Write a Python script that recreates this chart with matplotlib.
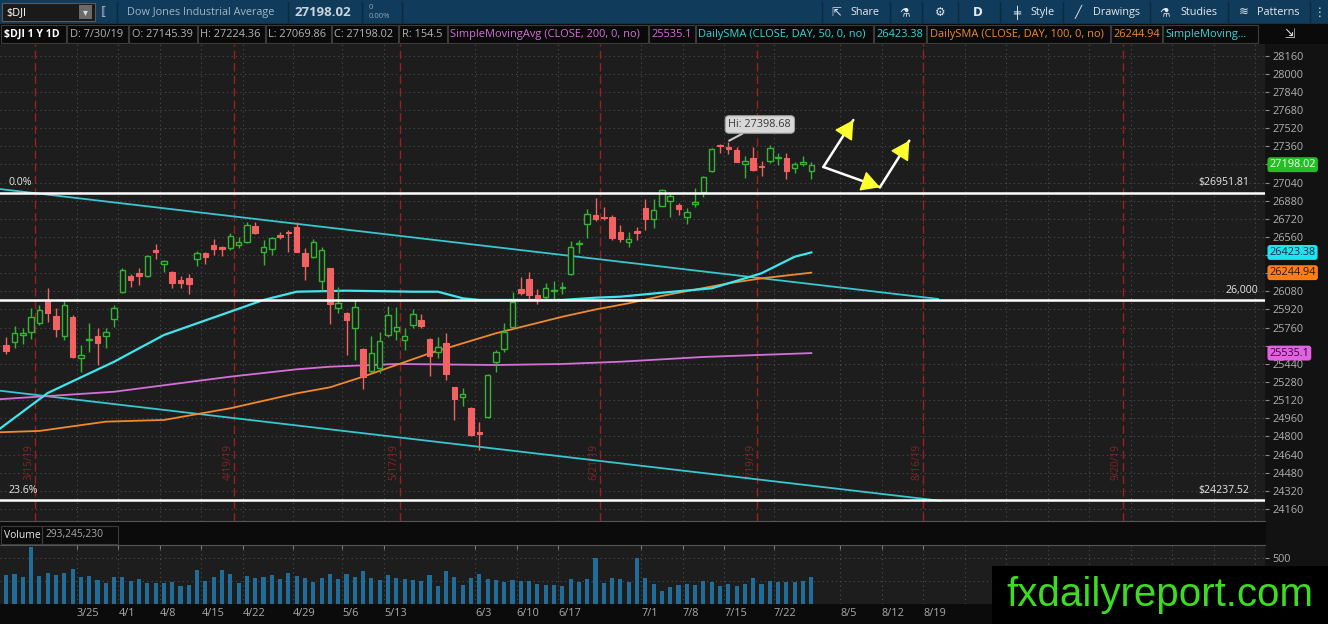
import matplotlib
matplotlib.use('Agg')
import matplotlib.pyplot as plt
import matplotlib.transforms as mtransforms
from matplotlib.patches import Rectangle
import numpy as np
import pandas as pd

plt.rcParams['font.family'] = ['Open Sans', 'DejaVu Sans']

# ---------------- data ----------------
dates = ['3/12', '3/13', '3/14', '3/15', '3/18', '3/19', '3/20', '3/21', '3/22',
         '3/25', '3/26', '3/27', '3/28', '3/29', '4/1', '4/2', '4/3', '4/4', '4/5',
         '4/8', '4/9', '4/10', '4/11', '4/12', '4/15', '4/16', '4/17', '4/18',
         '4/22', '4/23', '4/24', '4/25', '4/26', '4/29', '4/30', '5/1', '5/2', '5/3',
         '5/6', '5/7', '5/8', '5/9', '5/10', '5/13', '5/14', '5/15', '5/16', '5/17',
         '5/20', '5/21', '5/22', '5/23', '5/24', '5/28', '5/29', '5/30', '5/31',
         '6/3', '6/4', '6/5', '6/6', '6/7', '6/10', '6/11', '6/12', '6/13', '6/14',
         '6/17', '6/18', '6/19', '6/20', '6/21', '6/24', '6/25', '6/26', '6/27', '6/28',
         '7/1', '7/2', '7/3', '7/5', '7/8', '7/9', '7/10', '7/11', '7/12',
         '7/15', '7/16', '7/17', '7/18', '7/19', '7/22', '7/23', '7/24', '7/25', '7/26',
         '7/29', '7/30']

opens = [25607, 25636, 25692, 25724, 25804, 26000, 25866, 25686, 25851,
         25489, 25648, 25686, 25689, 25833, 26077, 26219, 26245, 26216, 26445,
         26322, 26254, 26180, 26195, 26363, 26422, 26489, 26475, 26460,
         26490, 26519, 26657, 26431, 26451, 26578, 26607, 26651, 26415, 26380,
         26171, 26283, 25936, 25886, 25759, 25568, 25380, 25400, 25695, 25730,
         25650, 25783, 25827, 25656, 25547, 25621, 25233, 25144, 25047,
         24841, 24968, 25453, 25568, 25768, 26100, 26189, 26048, 26033, 26083,
         26106, 26233, 26495, 26674, 26754, 26740, 26739, 26607, 26519, 26616,
         26819, 26719, 26836, 26878, 26839, 26733, 26852, 26960, 27145,
         27372, 27357, 27328, 27204, 27254, 27189, 27234, 27260, 27254, 27172,
         27204, 27145.39]
highs = [25674, 25774, 25754, 25930, 25960, 26109, 25930, 25995, 25870,
         25607, 25798, 25760, 25754, 25960, 26283, 26230, 26289, 26401, 26498,
         26355, 26262, 26216, 26233, 26439, 26430, 26539, 26480, 26598,
         26563, 26695, 26695, 26533, 26563, 26607, 26622, 26695, 26459, 26539,
         26474, 26290, 26121, 25895, 26003, 25580, 25686, 25724, 25950, 25945,
         25753, 25921, 25877, 25670, 25680, 25715, 25240, 25224, 25060,
         24930, 25350, 25562, 25797, 26077, 26209, 26253, 26097, 26150, 26174,
         26165, 26527, 26533, 26804, 26907, 26821, 26754, 26666, 26607, 26651,
         26892, 26892, 26981, 26945, 26857, 26813, 26989, 27098, 27343,
         27380, 27398.68, 27357, 27275, 27351, 27233, 27372, 27299, 27304, 27225,
         27275, 27224.36]
lows = [25527, 25583, 25616, 25657, 25783, 25813, 25680, 25651, 25490,
        25371, 25548, 25430, 25577, 25769, 26069, 26122, 26136, 26210, 26363,
        26248, 26107, 26107, 26057, 26304, 26319, 26401, 26395, 26445,
        26460, 26510, 26586, 26313, 26401, 26539, 26430, 26425, 26180, 26371,
        26092, 25789, 25886, 25518, 25474, 25215, 25356, 25356, 25680, 25650,
        25562, 25753, 25759, 25333, 25494, 25297, 24944, 25068, 24800,
        24680, 24960, 25371, 25547, 25753, 26048, 26012, 25965, 26003, 26003,
        26053, 26224, 26415, 26548, 26704, 26710, 26533, 26519, 26469, 26533,
        26622, 26636, 26833, 26733, 26754, 26675, 26828, 26916, 27136,
        27300, 27292, 27219, 27078, 27145, 27098, 27210, 27195, 27069, 27128,
        27187, 27069.86]
closes = [25555, 25710, 25709, 25851, 25914, 25890, 25745, 25962, 25502,
          25516, 25657, 25627, 25719, 25930, 26269, 26180, 26216, 26392, 26430,
          26348, 26151, 26157, 26145, 26416, 26386, 26451, 26450, 26569,
          26512, 26666, 26598, 26469, 26548, 26557, 26592, 26430, 26306, 26518,
          26445, 25965, 25974, 25827, 25945, 25327, 25533, 25645, 25871, 25768,
          25686, 25877, 25774, 25510, 25592, 25350, 25127, 25174, 24815,
          24819, 25342, 25542, 25724, 25989, 26062, 26048, 26009, 26106, 26092,
          26115, 26468, 26504, 26762, 26722, 26727, 26548, 26539, 26539, 26595,
          26719, 26798, 26975, 26925, 26806, 26783, 26866, 27092, 27334,
          27360, 27335, 27222, 27231, 27151, 27175, 27348, 27269, 27145, 27201,
          27225, 27198.02]
volumes_m = [318, 329, 296, 628, 307, 343, 321, 343, 380, 296,
             307, 259, 230, 296, 296, 252, 270, 230, 230, 230,
             241, 201, 212, 372, 252, 296, 372, 329, 230, 307,
             285, 296, 318, 270, 343, 307, 285, 245, 285, 329,
             270, 329, 296, 361, 285, 259, 318, 285, 270, 263,
             252, 318, 201, 361, 296, 212, 285, 329, 277, 263,
             245, 263, 248, 248, 223, 208, 208, 193, 274, 241,
             274, 500, 234, 281, 270, 245, 500, 281, 223, 142,
             186, 212, 219, 212, 252, 241, 197, 219, 201, 219,
             288, 223, 252, 245, 245, 245, 252, 293.2]

sma50_dates = ['3/11', '3/19', '3/29', '4/8', '4/18', '4/25', '5/1', '5/9', '5/21', '5/24',
               '5/30', '6/3', '6/11', '6/17', '6/21', '6/26', '7/3', '7/12', '7/18', '7/22',
               '7/26', '7/30']
sma50_vals = [24855, 25183, 25459, 25695, 25901, 26004, 26077, 26086, 26077, 26077,
              26019, 26004, 26004, 26004, 26024, 26033, 26068, 26107, 26195, 26240,
              26386, 26423.38]
sma100_dates = ['3/11', '3/18', '3/28', '4/8', '4/18', '5/1', '5/7', '5/13', '5/23', '6/5',
                '6/17', '6/21', '6/27', '7/3', '7/16', '7/22', '7/30']
sma100_vals = [24836, 24848, 24930, 24945, 25048, 25180, 25233, 25327, 25533, 25710,
               25856, 25920, 25975, 26040, 26151, 26195, 26244.94]
sma200_dates = ['3/11', '3/29', '4/18', '5/1', '5/7', '5/17', '6/5', '6/17', '6/26', '7/11', '7/30']
sma200_vals = [25127, 25194, 25327, 25392, 25415, 25439, 25430, 25439, 25459, 25501, 25535.1]

levels = [26951.81, 26000, 24237.52]
trend_upper = [(0.25, 26983), (113.27, 26013)]
trend_lower = [(0.25, 25203), (113.5, 24232)]

expiry_dates = ['3/15', '4/18', '5/17', '6/21', '7/19', '8/16', '9/20']
expiry_labels = ['3/15/19', '4/19/19', '5/17/19', '6/21/19', '7/19/19', '8/16/19', '9/20/19']

xtick_labels = ['3/25', '4/1', '4/8', '4/15', '4/22', '4/29', '5/6', '5/13', '6/3', '6/10',
                '6/17', '7/1', '7/8', '7/15', '7/22', '8/5', '8/12', '8/19']
xtick_pos = [9.5, 14.5, 19.5, 24.5, 29.5, 35.5, 41.5, 46.5, 57.5, 62.5,
             67.5, 77.5, 82.5, 87.5, 93.5, 101.5, 106.5, 111.5]

# price labels hidden behind the coloured value boxes on the axis
hidden_price_labels = [27200, 26400, 26240, 25600]

arrow_pts = {'A': (99.45, 27178), 'B': (103.06, 27592), 'C': (106.27, 26999), 'D': (109.8, 27410)}

# ---------------- trading calendar (x scale) ----------------
holidays = {'2019-04-19', '2019-05-27', '2019-07-04', '2019-09-02'}
cal = [d for d in pd.bdate_range('2019-03-11', '2019-11-30') if d.strftime('%Y-%m-%d') not in holidays]
pos = {f"{d.month}/{d.day}": i for i, d in enumerate(cal)}
xs = [pos[d] for d in dates]

# ---------------- colours ----------------
BG = '#1d1d1d'
GREEN = '#33b533'
RED = '#f26262'
CYAN = '#3fe6ee'
TREND = '#38c6cf'
ORANGE = '#f08a2c'
MAGENTA = '#d56fda'
GRID = '#4c4c4c'
EXP = '#9a1f1f'

W, H = 1328, 624
fig = plt.figure(figsize=(W / 100, H / 100), dpi=100, facecolor='#111111')


def fr(x0, y0, x1, y1):
    return [x0 / W, 1 - y1 / H, (x1 - x0) / W, (y1 - y0) / H]


bg = fig.add_axes([0, 0, 1, 1])
bg.set_xlim(0, W)
bg.set_ylim(H, 0)
bg.axis('off')
bg.set_zorder(0)

# toolbar
bg.add_patch(Rectangle((0, 0), W, 24, color='#113b5a', zorder=1))
bg.add_patch(Rectangle((2, 3), 93, 18, fc='#1a1a1a', ec='#5a5a5a', lw=0.8, zorder=2))
bg.text(6, 12.5, '$DJI', color='white', fontsize=7.8, va='center', zorder=3)
bg.add_patch(Rectangle((79, 5), 13, 14, fc='#6a6a6a', ec='none', zorder=3))
bg.text(85.5, 12, '▾', color='#dddddd', fontsize=7, ha='center', va='center', zorder=4, family='DejaVu Sans')
bg.text(103, 12, '⟦', color='#dddddd', fontsize=8, ha='center', va='center', zorder=4, family='DejaVu Sans')
bg.text(127, 12.5, 'Dow Jones Industrial Average', color='#9fb6c8', fontsize=7.8, va='center', zorder=3)
bg.text(295, 12.5, '27198.02', color='#c9d4de', fontsize=9.5, fontweight='bold', va='center', zorder=3)
bg.text(369, 7.5, '0', color='#8fa6b8', fontsize=5.5, va='center', zorder=3)
bg.text(369, 17, '0.00%', color='#8fa6b8', fontsize=5.5, va='center', zorder=3)
for sx in [117, 288, 362, 402]:
    bg.plot([sx, sx], [2, 22], color='#0a2a40', lw=1, zorder=2)
tool_items = [(836, '⇱', 'Share', 850), (905, '⚗', '', 0), (940, '⚙', '', 0), (978, 'D', '', 0),
              (1017, '╪', 'Style', 1030), (1078, '╱', 'Drawings', 1093), (1165, '⚗', 'Studies', 1180),
              (1244, '≋', 'Patterns', 1257), (1320, '⋮', '', 0)]
for ix, icon, label, lx in tool_items:
    bg.text(ix, 12.5, icon, color='#e3e9ee', fontsize=8.5, ha='center', va='center', zorder=3,
            family='DejaVu Sans', fontweight='bold' if icon == 'D' else 'normal')
    if label:
        bg.text(lx, 12.5, label, color='#e3e9ee', fontsize=7.8, va='center', zorder=3)
for sx in [822, 890, 922, 958, 1000, 1063, 1150, 1228, 1310]:
    bg.plot([sx, sx], [2, 22], color='#0a2a40', lw=1, zorder=2)

# header row
bg.add_patch(Rectangle((0, 24), W, 20, color='#0a0a0a', zorder=1))
cells = [('$DJI 1 Y 1D', 0, 66, 'white', 'bold'),
         ('D: 7/30/19', 66, 128, '#b4b4b4', 'normal'),
         ('O: 27145.39', 128, 197, '#b4b4b4', 'normal'),
         ('H: 27224.36', 197, 265, '#b4b4b4', 'normal'),
         ('L: 27069.86', 265, 331, '#b4b4b4', 'normal'),
         ('C: 27198.02', 331, 398, '#b4b4b4', 'normal'),
         ('R: 154.5', 398, 447, '#b4b4b4', 'normal'),
         ('SimpleMovingAvg (CLOSE, 200, 0, no)', 447, 648, MAGENTA, 'normal'),
         ('25535.1', 648, 695, MAGENTA, 'normal'),
         ('DailySMA (CLOSE, DAY, 50, 0, no)', 695, 873, '#36d6de', 'normal'),
         ('26423.38', 873, 926, '#36d6de', 'normal'),
         ('DailySMA (CLOSE, DAY, 100, 0, no)', 926, 1110, ORANGE, 'normal'),
         ('26244.94', 1110, 1162, ORANGE, 'normal'),
         ('SimpleMoving...', 1162, 1258, '#36d6de', 'normal')]
for txt, x0, x1, col, wt in cells:
    bg.add_patch(Rectangle((x0 + 0.5, 25), x1 - x0 - 1, 18, fc='none', ec='#3c3c3c', lw=0.8, zorder=2))
    bg.text(x0 + 3.5, 34.5, txt, color=col, fontsize=7.9 if wt == 'normal' else 7.6,
            fontweight=wt, va='center', zorder=3)
bg.text(1290, 34, '⇲', color='#dddddd', fontsize=9, ha='center', va='center', zorder=3,
        family=['DejaVu Sans'])

# right area, volume header, x-label strip
bg.add_patch(Rectangle((1265, 44), W - 1265, H - 44, color='#121212', zorder=1))
bg.add_patch(Rectangle((0, 521), 1265, 24, color='#0b0b0b', zorder=1))
bg.add_patch(Rectangle((1, 526), 41, 18, fc='none', ec='#3c3c3c', lw=0.8, zorder=2))
bg.add_patch(Rectangle((42, 526), 76, 18, fc='none', ec='#3c3c3c', lw=0.8, zorder=2))
bg.text(4, 535, 'Volume', color='#e8e8e8', fontsize=7.4, va='center', zorder=3)
bg.text(46, 535, '293,245,230', color='#a8a8a8', fontsize=7.4, va='center', zorder=3)
bg.add_patch(Rectangle((0, 604), 1265, 20, color='#0b0b0b', zorder=1))

# ---------------- price panel ----------------
ax = fig.add_axes(fr(0, 44, 1265, 521))
ax.set_zorder(2)
ax.set_facecolor(BG)
xmin, xmax = 0.25, 152.66
ax.set_xlim(xmin, xmax)
ax.set_ylim(24053.1, 28263.3)
for s in ['top', 'left', 'right']:
    ax.spines[s].set_visible(False)
ax.spines['bottom'].set_color('#555555')
ax.set_xticks([])
yt = np.arange(24160, 28161, 160)
ax.set_yticks(yt)
ax.set_yticklabels(['' if v in hidden_price_labels else str(v) for v in yt])
ax.yaxis.tick_right()
ax.tick_params(axis='y', length=3, color='#8a8a8a', labelcolor='#b0b0b0', labelsize=7.8, pad=2.5)

grid_x = list(xtick_pos) + list(np.arange(116.5, 152, 5.0))
for gy in yt:
    ax.axhline(gy, color=GRID, lw=0.8, ls=(0, (1, 3)), zorder=0.5)
for gx in grid_x:
    ax.axvline(gx, color=GRID, lw=0.8, ls=(0, (1, 3)), zorder=0.5)

for d, lab in zip(expiry_dates, expiry_labels):
    xe = pos[d] + 0.5
    ax.axvline(xe, color=EXP, lw=1.0, ls=(0, (6, 3)), zorder=0.8)
    ax.text(xe - 0.75, 24575, lab, rotation=90, color='#842424', fontsize=7.2,
            ha='center', va='center', zorder=0.9)

# trend lines
for seg in [trend_upper, trend_lower]:
    ax.plot([seg[0][0], seg[1][0]], [seg[0][1], seg[1][1]], color=TREND, lw=1.3, zorder=2)

# moving averages
ax.plot([pos[d] for d in sma200_dates], sma200_vals, color=MAGENTA, lw=1.3, zorder=2.2)
ax.plot([pos[d] for d in sma100_dates], sma100_vals, color=ORANGE, lw=1.3, zorder=2.2)
ax.plot([pos[d] for d in sma50_dates], sma50_vals, color=CYAN, lw=1.6, zorder=2.3)

# candles
bw = 0.66
for x, o, h, l, c in zip(xs, opens, highs, lows, closes):
    up = c >= o
    col = GREEN if up else RED
    top, bot = max(o, c), min(o, c)
    hgt = max(top - bot, 9)
    ax.plot([x, x], [top, h], color=col, lw=1.0, zorder=3, solid_capstyle='butt')
    ax.plot([x, x], [l, bot], color=col, lw=1.0, zorder=3, solid_capstyle='butt')
    if up:
        ax.add_patch(Rectangle((x - bw / 2, bot), bw, hgt, fc=BG, ec=col, lw=1.0, zorder=3.1))
    else:
        ax.add_patch(Rectangle((x - bw / 2, bot), bw, hgt, fc=col, ec=col, lw=0.8, zorder=3.1))

# horizontal levels
for lv in levels:
    ax.axhline(lv, color='white', lw=1.8, zorder=4)
blend = mtransforms.blended_transform_factory(ax.transAxes, ax.transData)
ax.text(0.0064, 26951.81 + 40, '0.0%', transform=blend, color='#e6e6e6', fontsize=7.6, va='bottom', zorder=5)
ax.text(0.0064, 24237.52 + 40, '23.6%', transform=blend, color='#e6e6e6', fontsize=7.6, va='bottom', zorder=5)
ax.text(0.9874, 26951.81 + 40, '$26951.81', transform=blend, color='#e6e6e6', fontsize=7.6,
        ha='right', va='bottom', zorder=5)
ax.text(0.9874, 24237.52 + 40, '$24237.52', transform=blend, color='#e6e6e6', fontsize=7.6,
        ha='right', va='bottom', zorder=5)
ax.text(0.9947, 26000 + 40, '26,000', transform=blend, color='#e6e6e6', fontsize=7.6,
        ha='right', va='bottom', zorder=5)

# price boxes on the axis
for val, txt, fc, tc in [(27198.02, '27198.02', '#22c022', '#ffffff'),
                         (26423.38, '26423.38', '#1fe4f0', '#1b2a38'),
                         (26244.94, '26244.94', '#ff7d14', '#2a1a0a'),
                         (25535.1, '25535.1', '#e163e4', '#2a102a')]:
    ax.text(1.0035, val, txt, transform=blend, ha='left', va='center', fontsize=7.8, color=tc,
            bbox=dict(boxstyle='round,pad=0.18,rounding_size=0.25', fc=fc, ec='none'),
            clip_on=False, zorder=10)

# Hi callout
ax.annotate('Hi: 27398.68', xy=(pos['7/16'] + 0.1, 27410), xytext=(91.8, 27553),
            ha='center', va='center', fontsize=7.8, color='#3a3a3a',
            bbox=dict(boxstyle='round,pad=0.3,rounding_size=0.35', fc='#d8d8d8', ec='#a0a0a0', lw=0.8),
            arrowprops=dict(arrowstyle='-', color='#c8c8c8', lw=1.5, shrinkA=0, shrinkB=0), zorder=12)

# drawn arrows
for a, b in [('A', 'B'), ('A', 'C'), ('C', 'D')]:
    s = np.array(arrow_pts[a])
    e = np.array(arrow_pts[b])
    ax.plot([s[0], e[0]], [s[1], e[1]], color='white', lw=1.8, zorder=11, solid_capstyle='round')
    t = e - 0.12 * (e - s)
    ax.annotate('', xy=tuple(e), xytext=tuple(t),
                arrowprops=dict(arrowstyle='-|>,head_length=0.9,head_width=0.5', mutation_scale=13,
                                fc='#ffff2e', ec='#ffff2e', lw=1.0, shrinkA=0, shrinkB=0), zorder=12)

# ---------------- volume panel ----------------
axv = fig.add_axes(fr(0, 545, 1265, 604))
axv.set_zorder(2)
axv.set_facecolor(BG)
axv.set_xlim(xmin, xmax)
axv.set_ylim(0, 646)
for s in ['left', 'right', 'bottom']:
    axv.spines[s].set_visible(False)
axv.spines['top'].set_color('#555555')
axv.bar(xs, volumes_m, width=0.5, color='#1f6d98', zorder=2)
for gy in [250, 500]:
    axv.axhline(gy, color=GRID, lw=0.8, ls=(0, (1, 3)), zorder=0.5)
for gx in grid_x:
    axv.axvline(gx, color=GRID, lw=0.8, ls=(0, (1, 3)), zorder=0.5)
axv.yaxis.tick_right()
axv.set_yticks([500])
axv.set_yticklabels(['500'])
axv.tick_params(axis='y', length=3, color='#8a8a8a', labelcolor='#b0b0b0', labelsize=7.8, pad=2.5)
axv.set_xticks(xtick_pos)
axv.set_xticklabels(xtick_labels)
axv.tick_params(axis='x', bottom=False, top=True, direction='in', length=3, color='#777777',
                labelbottom=True, labelsize=7.8, labelcolor='#aaaaaa', pad=3)
for lab in axv.get_xticklabels():
    lab.set_ha('left')

# ---------------- watermark ----------------
wm = fig.add_axes(fr(992, 566, 1328, 624))
wm.set_zorder(6)
wm.set_facecolor('#000000')
wm.set_xticks([])
wm.set_yticks([])
for s in wm.spines.values():
    s.set_visible(False)
wm.text(0.499, 0.5, 'fxdailyreport.com', transform=wm.transAxes, fontsize=29, color='#3ddc22',
        family='Liberation Sans', ha='center', va='center')

fig.savefig('out.png', dpi=100, facecolor=fig.get_facecolor())
